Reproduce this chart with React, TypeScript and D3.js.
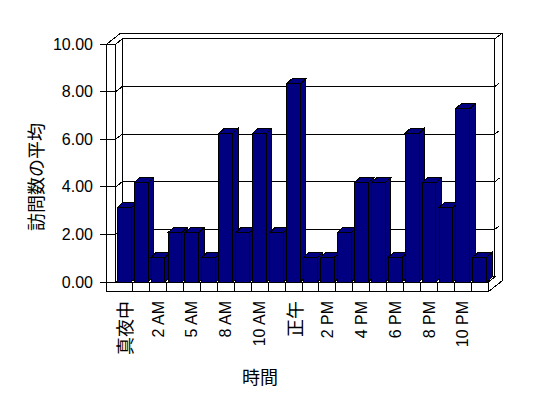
import React from "react";
import * as d3 from "d3";

const categories: string[] = [
  "真夜中", "1 AM", "2 AM", "4 AM", "5 AM", "7 AM", "8 AM", "9 AM", "10 AM", "11 AM", "正午",
  "1 PM", "2 PM", "3 PM", "4 PM", "5 PM", "6 PM", "7 PM", "8 PM", "9 PM", "10 PM", "11 PM",
];
const values: number[] = [
  3.13, 4.17, 1.04, 2.08, 2.08, 1.04, 6.25, 2.08, 6.25, 2.08, 8.33,
  1.04, 1.04, 2.08, 4.17, 4.17, 1.04, 6.25, 4.17, 3.13, 7.29, 1.04,
];
const shownLabels: string[] = [
  "真夜中", "2 AM", "5 AM", "8 AM", "10 AM", "正午", "2 PM", "4 PM", "6 PM", "8 PM", "10 PM",
];
const yTicks: number[] = [0, 2, 4, 6, 8, 10];
const yTitle = "訪問数の平均";
const xTitle = "時間";

const NAVY = "#000080";
const FONT = "'Liberation Sans', Arial, 'Noto Sans CJK JP', sans-serif";
const CJK = "'Noto Sans CJK JP', sans-serif";

export default function App() {
  const x0 = 115.7, x1 = 488.3;
  const yF = d3.scaleLinear().domain([0, 10]).range([282.1, 44.1]);
  const x = d3.scaleBand<string>().domain(categories).range([x0, x1]).padding(0);
  const bw = x.bandwidth();
  const d1 = { dx: 6.6, dy: -5.2 };
  const d2 = { dx: 14, dy: -11 };
  const wallL = 106.7;
  const floorB = 291.7;
  const yTop = yF(10), yBot = yF(0);
  const bd = { dx: 5.3, dy: -5 };
  const pts = (a: number[][]) => a.map((p) => p.join(",")).join(" ");
  const stroke = { stroke: "#000", strokeWidth: 1 };
  const isCJK = (s: string) => /[\u3000-\u9fff]/.test(s);

  return (
    <svg width={548} height={398} style={{ position: "absolute", left: 0, top: 0, background: "#fff" }}>
      <g shapeRendering="crispEdges" fill="#fff">
        {/* back wall inner */}
        <rect x={x0 + d1.dx} y={yTop + d1.dy} width={x1 - x0} height={yBot - yTop} {...stroke} />
        {/* back wall top thickness */}
        <polygon
          points={pts([
            [wallL, yTop], [wallL + d2.dx, yTop + d2.dy], [x1 + d2.dx, yTop + d2.dy],
            [x1 + d2.dx, yBot + d2.dy + 9.6], [x1, floorB], [x1, yBot],
            [x1 + d1.dx, yBot + d1.dy], [x1 + d1.dx, yTop + d1.dy], [x0 + d1.dx, yTop + d1.dy], [x0, yTop],
          ])}
          {...stroke}
        />
        <line x1={x1 + d1.dx} y1={yTop + d1.dy} x2={x1 + d2.dx} y2={yTop + d2.dy} {...stroke} />
        {/* left wall inner face */}
        <polygon
          points={pts([[x0, yTop], [x0 + d1.dx, yTop + d1.dy], [x0 + d1.dx, yBot + d1.dy], [x0, yBot]])}
          {...stroke}
        />
        {/* floor top */}
        <polygon
          points={pts([[x0, yBot], [x1, yBot], [x1 + d1.dx, yBot + d1.dy], [x0 + d1.dx, yBot + d1.dy]])}
          {...stroke}
        />
        {/* gridlines */}
        {yTicks.filter((v) => v > 0 && v < 10).map((v) => (
          <polyline
            key={"g" + v}
            fill="none"
            points={pts([
              [x0, yF(v)], [x0 + d1.dx, yF(v) + d1.dy], [x1 + d1.dx, yF(v) + d1.dy],
              [x1 + d1.dx + 4.4, yF(v) + d1.dy - 3.5],
            ])}
            {...stroke}
          />
        ))}
        {/* left wall front face */}
        <rect x={wallL} y={yTop} width={x0 - wallL} height={floorB - yTop} {...stroke} />
        {/* floor front face */}
        <rect x={wallL} y={yBot} width={x1 - wallL} height={floorB - yBot} {...stroke} />
        {categories.slice(1).map((c) => (
          <line key={"ct" + c} x1={x(c)!} x2={x(c)!} y1={yBot} y2={floorB} {...stroke} />
        ))}
        {/* y ticks */}
        {yTicks.map((v) => (
          <line key={"t" + v} x1={100} x2={x0} y1={yF(v)} y2={yF(v)} {...stroke} />
        ))}
        {/* bars */}
        {categories.map((c, i) => {
          const xf = x(c)! + bw * 0.09;
          const w = bw * 0.82;
          const yt = yF(values[i]);
          return (
            <g key={"b" + i} fill={NAVY}>
              <rect x={xf} y={yt} width={w} height={yBot - yt} {...stroke} />
              <polygon
                points={pts([[xf, yt], [xf + w, yt], [xf + w + bd.dx, yt + bd.dy], [xf + bd.dx, yt + bd.dy]])}
                {...stroke}
              />
              <polygon
                points={pts([[xf + w, yt], [xf + w + bd.dx, yt + bd.dy], [xf + w + bd.dx, yBot + bd.dy], [xf + w, yBot]])}
                {...stroke}
              />
            </g>
          );
        })}
      </g>
      {/* y tick labels */}
      {yTicks.map((v) => (
        <text key={"yl" + v} x={93} y={yF(v)} textAnchor="end" dominantBaseline="central"
          fontFamily={FONT} fontSize={16} fill="#000">
          {d3.format(".2f")(v)}
        </text>
      ))}
      {/* x labels */}
      {categories.map((c, i) => {
        if (!shownLabels.includes(c)) return null;
        const cx = x(c)! + bw / 2;
        return (
          <text key={"xl" + i} transform={`translate(${cx},301) rotate(-90)`} textAnchor="end"
            dominantBaseline="central" fontFamily={isCJK(c) ? CJK : FONT} fontSize={isCJK(c) ? 18 : 16} fill="#000">
            {c}
          </text>
        );
      })}
      <text transform="translate(35,177) rotate(-90)" textAnchor="middle" dominantBaseline="central"
        fontFamily={CJK} fontSize={18} fill="#000">{yTitle}</text>
      <text x={260} y={376} textAnchor="middle" dominantBaseline="central" fontFamily={CJK} fontSize={18} fill="#000">
        {xTitle}
      </text>
    </svg>
  );
}
